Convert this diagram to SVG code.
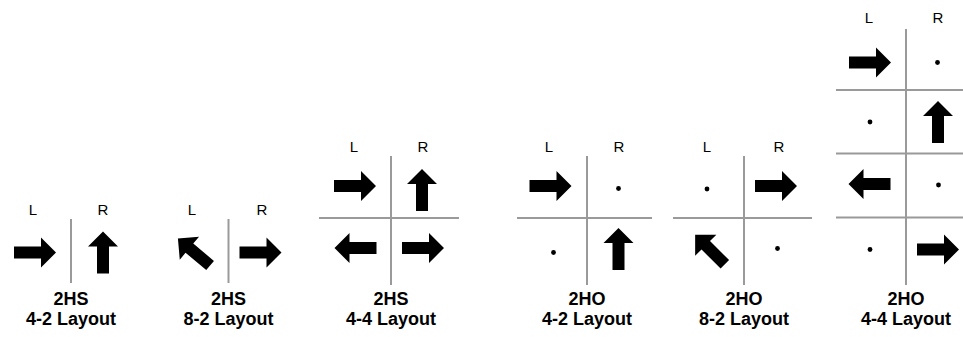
<svg xmlns="http://www.w3.org/2000/svg" xmlns:xlink="http://www.w3.org/1999/xlink" width="963" height="337" viewBox="0 0 963 337">
  <style>
    .div { stroke: #9a9a9a; stroke-width: 2; fill: none; }
    .side { font-family: "Liberation Sans", Arial, sans-serif; font-size: 15px; fill: #000; text-anchor: middle; }
    .title { font-family: "Liberation Sans", Arial, sans-serif; font-size: 18px; font-weight: bold; fill: #000; text-anchor: middle; }
    .dot { fill: #000; }
  </style>
  <defs>
    <!-- block arrow pointing right, centred on the origin -->
    <path id="arr" d="M-21,-6 H6 V-15 L21,0 L6,15 V6 H-21 Z" fill="#000"/>
  </defs>
  <rect width="963" height="337" fill="#fff"/>

  <!-- 2HS 4-2 -->
  <g id="hs-42">
    <line class="div" x1="71" y1="219" x2="71" y2="283"/>
    <text class="side" x="33" y="215">L</text>
    <text class="side" x="103" y="215">R</text>
    <use href="#arr" transform="translate(35,252.5)"/>
    <use href="#arr" transform="translate(103,252.5) rotate(-90)"/>
    <text class="title" x="71" y="304.5">2HS</text>
    <text class="title" x="71" y="325">4-2 Layout</text>
  </g>

  <!-- 2HS 8-2 -->
  <g id="hs-82">
    <line class="div" x1="228.5" y1="219" x2="228.5" y2="283"/>
    <text class="side" x="192" y="215">L</text>
    <text class="side" x="262" y="215">R</text>
    <use href="#arr" transform="translate(194,252) rotate(-140)"/>
    <use href="#arr" transform="translate(260.5,252.5)"/>
    <text class="title" x="228.5" y="304.5">2HS</text>
    <text class="title" x="228.5" y="325">8-2 Layout</text>
  </g>

  <!-- 2HS 4-4 -->
  <g id="hs-44">
    <line class="div" x1="391" y1="156" x2="391" y2="285"/>
    <line class="div" x1="319" y1="218" x2="459" y2="218"/>
    <text class="side" x="354" y="152">L</text>
    <text class="side" x="423" y="152">R</text>
    <use href="#arr" transform="translate(355,186)"/>
    <use href="#arr" transform="translate(422,190) rotate(-90)"/>
    <use href="#arr" transform="translate(355.5,248) rotate(180)"/>
    <use href="#arr" transform="translate(423,248)"/>
    <text class="title" x="391" y="304.5">2HS</text>
    <text class="title" x="391" y="325">4-4 Layout</text>
  </g>

  <!-- 2HO 4-2 -->
  <g id="ho-42">
    <line class="div" x1="587" y1="156" x2="587" y2="285"/>
    <line class="div" x1="517" y1="218" x2="652" y2="218"/>
    <text class="side" x="549" y="152">L</text>
    <text class="side" x="619" y="152">R</text>
    <use href="#arr" transform="translate(550.5,186)"/>
    <circle class="dot" cx="618.5" cy="188.5" r="2.4"/>
    <circle class="dot" cx="553.5" cy="252.5" r="2.4"/>
    <use href="#arr" transform="translate(618.5,249) rotate(-90)"/>
    <text class="title" x="587" y="304.5">2HO</text>
    <text class="title" x="587" y="325">4-2 Layout</text>
  </g>

  <!-- 2HO 8-2 -->
  <g id="ho-82">
    <line class="div" x1="744" y1="156" x2="744" y2="285"/>
    <line class="div" x1="673" y1="218" x2="812" y2="218"/>
    <text class="side" x="707" y="152">L</text>
    <text class="side" x="779" y="152">R</text>
    <circle class="dot" cx="707" cy="189" r="2.4"/>
    <use href="#arr" transform="translate(776,186)"/>
    <use href="#arr" transform="translate(710,249.5) rotate(-135)"/>
    <circle class="dot" cx="777.5" cy="248.5" r="2.4"/>
    <text class="title" x="744" y="304.5">2HO</text>
    <text class="title" x="744" y="325">8-2 Layout</text>
  </g>

  <!-- 2HO 4-4 -->
  <g id="ho-44">
    <line class="div" x1="906" y1="29" x2="906" y2="285"/>
    <line class="div" x1="836" y1="90" x2="963" y2="90"/>
    <line class="div" x1="836" y1="153.5" x2="963" y2="153.5"/>
    <line class="div" x1="836" y1="217.5" x2="963" y2="217.5"/>
    <text class="side" x="869" y="23">L</text>
    <text class="side" x="938" y="23">R</text>
    <use href="#arr" transform="translate(870,62.5)"/>
    <circle class="dot" cx="937.5" cy="62.5" r="2.4"/>
    <circle class="dot" cx="870" cy="122" r="2.4"/>
    <use href="#arr" transform="translate(938,122) rotate(-90)"/>
    <use href="#arr" transform="translate(869.5,184) rotate(180)"/>
    <circle class="dot" cx="938.5" cy="185" r="2.4"/>
    <circle class="dot" cx="870" cy="249.5" r="2.4"/>
    <use href="#arr" transform="translate(938,249.5)"/>
    <text class="title" x="906" y="304.5">2HO</text>
    <text class="title" x="906" y="325">4-4 Layout</text>
  </g>
</svg>
